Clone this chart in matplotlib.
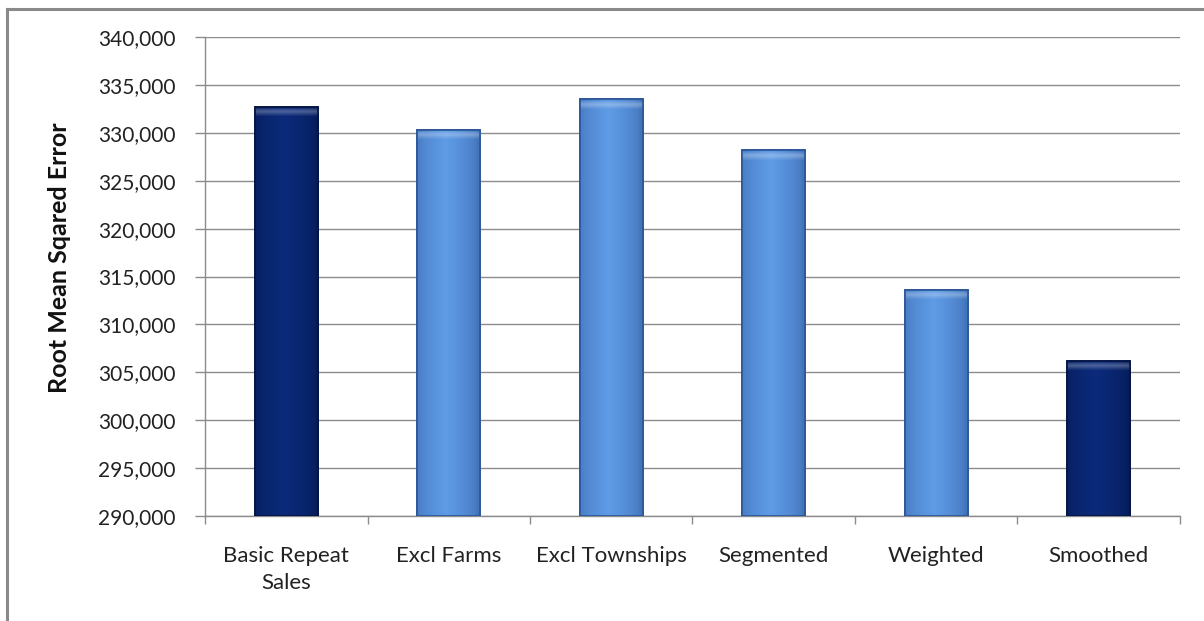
import numpy as np
import matplotlib
matplotlib.use("Agg")
import matplotlib.pyplot as plt
from matplotlib.colors import to_rgb
from matplotlib.ticker import FuncFormatter, FixedLocator
from matplotlib.lines import Line2D

categories = ["Basic Repeat\nSales", "Excl Farms", "Excl Townships", "Segmented", "Weighted", "Smoothed"]
rmse = [332700, 330300, 333500, 328200, 313600, 306200]
dark_flags = [True, False, False, False, False, True]
y_ticks = [290000, 295000, 300000, 305000, 310000, 315000, 320000, 325000, 330000, 335000, 340000]

DARK = "#0b2a7a"
DARK_EDGE = "#031444"
LIGHT = "#5f9be6"
LIGHT_EDGE = "#2b5597"

plt.rcParams["font.family"] = ["Lato", "DejaVu Sans"]

fig = plt.figure(figsize=(12.04, 6.21), dpi=100)
AX_H = 0.7713
ax = fig.add_axes([0.1703, 0.1691, 0.8097, AX_H])

x = np.arange(len(categories))
colors = [DARK if d else LIGHT for d in dark_flags]
edges = [DARK_EDGE if d else LIGHT_EDGE for d in dark_flags]
bars = ax.bar(x, rmse, width=0.39, bottom=0, color=colors, edgecolor=edges,
              linewidth=1.2, zorder=3)

ax.set_ylim(y_ticks[0], y_ticks[-1])
ax.set_xlim(-0.5, len(categories) - 0.5)


def column_shade(base, edge, rows):
    # darker at the sides, lighter toward the centre, soft highlight near the top
    b = np.array(to_rgb(base))
    e = np.array(to_rgb(edge))
    u = np.linspace(0, 1, 64)
    prof = np.clip(1 - np.abs(u - 0.45) * 2.0, 0, 1) ** 0.6
    mix = (1 - prof[:, None]) * 0.55
    row = e[None, :] * mix + b[None, :] * (1 - mix)
    img = np.repeat(row[None, :, :], rows, axis=0)
    band = np.zeros(rows)
    for i, a in zip(range(2, 10), [0.08, 0.16, 0.22, 0.25, 0.22, 0.16, 0.1, 0.05]):
        if i < rows:
            band[i] = a
    img = img * (1 - band[:, None, None]) + band[:, None, None]
    return np.clip(img, 0, 1)


px_per_unit = (AX_H * 621) / (y_ticks[-1] - y_ticks[0])
for bar, col, ed in zip(bars, colors, edges):
    x0, w = bar.get_x(), bar.get_width()
    top = bar.get_height()
    ylo = y_ticks[0]
    rows = max(int((top - ylo) * px_per_unit), 12)
    img = column_shade(col, ed, rows)
    im = ax.imshow(img, extent=[x0, x0 + w, ylo, top], aspect="auto",
                   origin="upper", zorder=3.5, interpolation="bilinear")
    im.set_clip_path(bar)
    ax.bar(x0 + w / 2, top - ylo, width=w, bottom=ylo, facecolor="none",
           edgecolor=ed, linewidth=1.2, zorder=4)

# value axis and gridlines
ax.yaxis.set_major_locator(FixedLocator(y_ticks))
ax.yaxis.set_major_formatter(FuncFormatter(lambda v, p: f"{int(v):,}"))
ax.grid(axis="y", color="#8c8c8c", linewidth=1.0, zorder=1)
ax.set_axisbelow(True)

for s in ["top", "right"]:
    ax.spines[s].set_visible(False)
for s in ["left", "bottom"]:
    ax.spines[s].set_color("#8c8c8c")
    ax.spines[s].set_linewidth(1.0)

ax.tick_params(axis="y", length=7, width=1, color="#8c8c8c", labelsize=15,
               labelcolor="#222222", pad=14)
ax.set_xticks(np.arange(-0.5, len(categories) + 0.5, 1.0))
ax.set_xticklabels([])
ax.tick_params(axis="x", length=6, width=1, color="#8c8c8c")

for xi, lab in zip(x, categories):
    ax.text(xi, -0.063, lab, transform=ax.get_xaxis_transform(), ha="center",
            va="top", fontsize=16, color="#222222", linespacing=1.45)

ax.set_ylabel("Root Mean Sqared Error", fontsize=18, fontweight="bold",
              color="#111111")
ax.yaxis.set_label_coords(-0.138, 0.54)

# outer chart frame (top and left edges)
fig.add_artist(Line2D([0.006, 1.0], [1 - 9 / 621, 1 - 9 / 621], transform=fig.transFigure,
                      color="#8a8a8a", linewidth=2.2))
fig.add_artist(Line2D([0.006, 0.006], [0.0, 1 - 9 / 621], transform=fig.transFigure,
                      color="#8a8a8a", linewidth=2.2))

fig.savefig("out.png", dpi=100)
